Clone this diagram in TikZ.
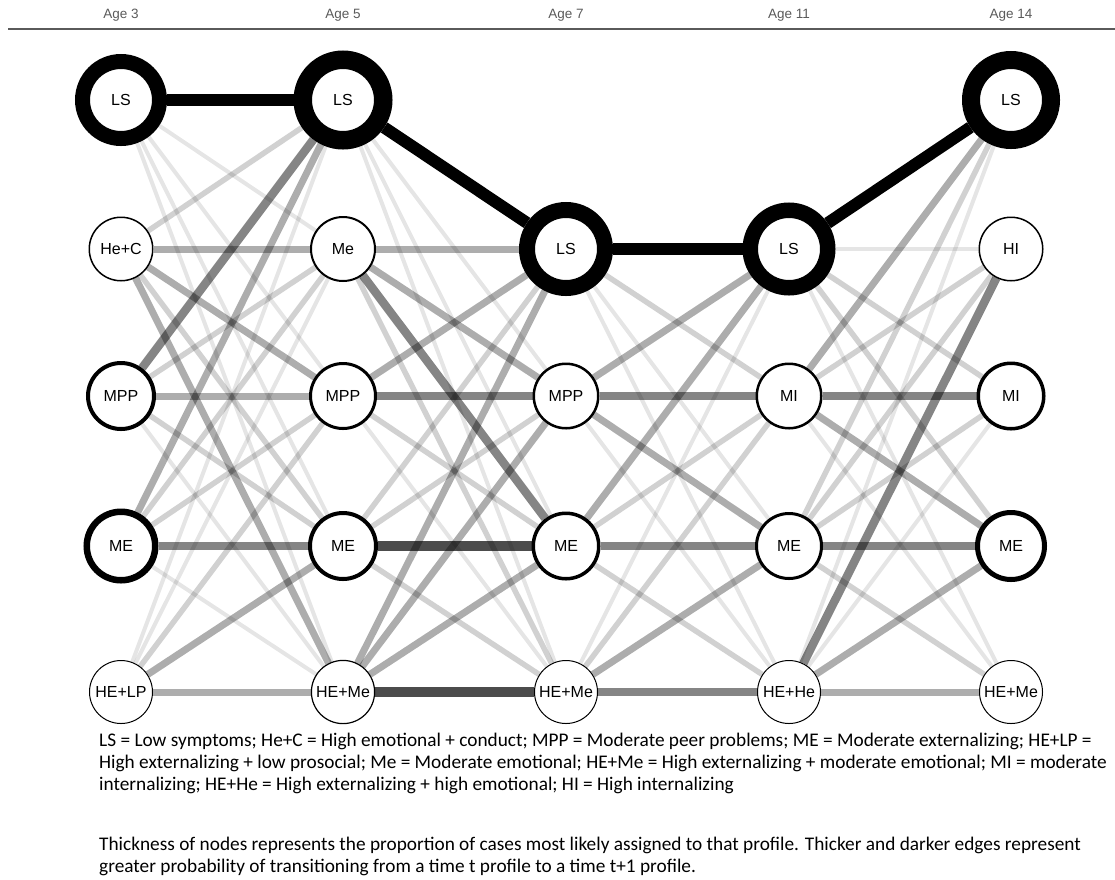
\documentclass[tikz,border=0pt]{standalone}
\usepackage{fontspec}
\setmainfont{Liberation Sans}
\newfontfamily\notefont{Carlito}

\begin{document}
\begin{tikzpicture}[x=1pt,y=-1pt,
    prof/.style={circle,draw=black,fill=white,inner sep=0pt,line width=#1,
        minimum size=62pt+#1,font=\fontsize{16}{18}\selectfont},
    agelab/.style={text=gray1,font=\fontsize{13.5}{15}\selectfont},
    note/.style={anchor=north west,align=left,inner sep=0pt,
        font=\notefont\fontsize{19.3}{22}\selectfont},
    faint/.style={draw=black,draw opacity=0.1,line width=4pt},
    light/.style={draw=black,draw opacity=0.18,line width=5.5pt},
    mid/.style={draw=black,draw opacity=0.32,line width=7pt},
    dark/.style={draw=black,draw opacity=0.48,line width=8.5pt},
    darker/.style={draw=black,draw opacity=0.7,line width=10.5pt},
    heavy/.style={draw=black,line width=12pt}]
\definecolor{gray1}{RGB}{90,90,90}
\useasboundingbox (0,0) rectangle (1115,879);

% time points
\node[agelab] (h3) at (121,15) {Age 3};
\node[agelab] (h5) at (343,15) {Age 5};
\node[agelab] (h7) at (566,15) {Age 7};
\node[agelab] (h11) at (789,15) {Age 11};
\node[agelab] (h14) at (1011,15) {Age 14};
\draw[gray1,line width=2pt] (8,29) -- (1115,29);

% profiles
\node[prof=15pt] (ls3) at (121,100) {LS};
\node[prof=1.5pt] (hec3) at (121,249) {He+C};
\node[prof=4pt] (mpp3) at (121,396) {MPP};
\node[prof=6.5pt] (me3) at (121,546) {ME};
\node[prof=1pt] (help3) at (121,692) {HE+LP};

\node[prof=18.5pt] (ls5) at (343,100) {LS};
\node[prof=2pt] (emo5) at (343,249) {Me};
\node[prof=3pt] (mpp5) at (343,396) {MPP};
\node[prof=4pt] (me5) at (343,546) {ME};
\node[prof=1.2pt] (heme5) at (343,692) {HE+Me};

\node[prof=16pt] (ls7) at (566,249) {LS};
\node[prof=2.5pt] (mpp7) at (566,396) {MPP};
\node[prof=3.5pt] (me7) at (566,546) {ME};
\node[prof=1pt] (heme7) at (566,692) {HE+Me};

\node[prof=15.5pt] (ls11) at (789,249) {LS};
\node[prof=2.5pt] (mi11) at (789,396) {MI};
\node[prof=3pt] (me11) at (789,546) {ME};
\node[prof=1pt] (hehe11) at (789,692) {HE+He};

\node[prof=18pt] (ls14) at (1011,100) {LS};
\node[prof=1.5pt] (hi14) at (1011,249) {HI};
\node[prof=3.5pt] (mi14) at (1011,396) {MI};
\node[prof=5pt] (me14) at (1011,546) {ME};
\node[prof=1pt] (heme14) at (1011,692) {HE+Me};

% transitions
\foreach \s/\t/\k in {ls3/emo5/faint, ls3/mpp5/faint, ls3/me5/faint, ls3/heme5/faint,
    hec3/ls5/light, hec3/emo5/mid, hec3/mpp5/mid, hec3/me5/light, hec3/heme5/mid,
    mpp3/ls5/dark, mpp3/emo5/light, mpp3/mpp5/mid, mpp3/me5/light, mpp3/heme5/faint,
    me3/ls5/mid, me3/emo5/light, me3/mpp5/light, me3/me5/dark, me3/heme5/faint,
    help3/ls5/faint, help3/emo5/faint, help3/mpp5/light, help3/me5/mid, help3/heme5/mid,
    ls5/mpp7/faint, ls5/me7/faint, ls5/heme7/faint,
    emo5/ls7/mid, emo5/mpp7/mid, emo5/me7/dark, emo5/heme7/light,
    mpp5/ls7/mid, mpp5/mpp7/dark, mpp5/me7/light, mpp5/heme7/faint,
    me5/ls7/light, me5/mpp7/light, me5/me7/darker, me5/heme7/light,
    heme5/ls7/mid, heme5/mpp7/mid, heme5/me7/mid, heme5/heme7/darker,
    ls7/mi11/light, ls7/me11/faint, ls7/hehe11/faint,
    mpp7/ls11/mid, mpp7/mi11/dark, mpp7/me11/mid, mpp7/hehe11/faint,
    me7/ls11/mid, me7/mi11/light, me7/me11/dark, me7/hehe11/light,
    heme7/ls11/faint, heme7/mi11/light, heme7/me11/mid, heme7/hehe11/dark,
    ls11/hi14/faint, ls11/mi14/light, ls11/me14/light, ls11/heme14/faint,
    mi11/ls14/mid, mi11/hi14/light, mi11/mi14/dark, mi11/me14/mid, mi11/heme14/faint,
    me11/ls14/light, me11/hi14/light, me11/mi14/light, me11/me14/dark, me11/heme14/light,
    hehe11/ls14/faint, hehe11/hi14/dark, hehe11/mi14/faint, hehe11/me14/mid, hehe11/heme14/mid}
  \draw[\k] (\s) -- (\t);
\draw[heavy] (ls3) -- (ls5);
\draw[heavy] (ls5) -- (ls7);
\draw[heavy] (ls7) -- (ls11);
\draw[heavy] (ls11) -- (ls14);

% key
\node[note] (key) at (99,733) {LS = Low symptoms; He+C = High emotional + conduct; MPP = Moderate peer problems; ME = Moderate externalizing; HE+LP =\\
High externalizing + low prosocial; Me = Moderate emotional; HE+Me = High externalizing + moderate emotional; MI = moderate\\
internalizing; HE+He = High externalizing + high emotional; HI = High internalizing};
\node[note] (notes) at (99,837) {Thickness of nodes represents the proportion of cases most likely assigned to that profile. Thicker and darker edges represent\\
greater probability of transitioning from a time t profile to a time t+1 profile.};
\end{tikzpicture}
\end{document}
